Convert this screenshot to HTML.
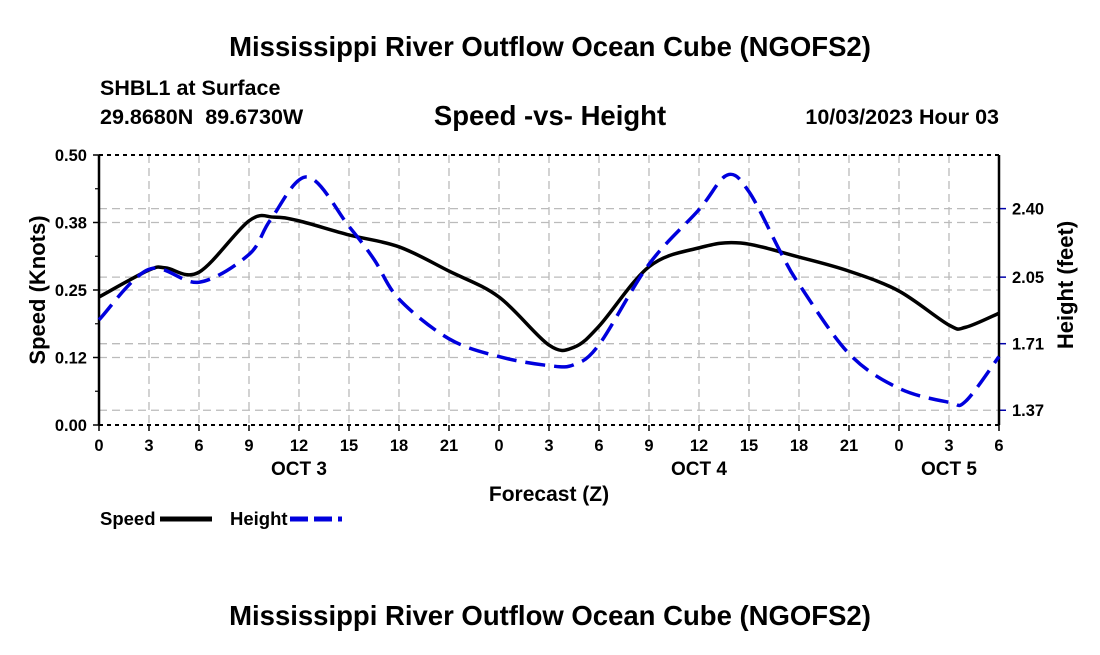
<!DOCTYPE html>
<html><head><meta charset="utf-8"><style>
body{margin:0;background:#fff;width:1100px;height:650px;overflow:hidden}
svg text{font-family:"Liberation Sans",Arial,sans-serif;font-weight:bold;fill:#000}
</style></head><body>
<svg id="chart" width="1100" height="650" xmlns="http://www.w3.org/2000/svg">
<text x="550" y="56" font-size="27.5" text-anchor="middle">Mississippi River Outflow Ocean Cube (NGOFS2)</text>
<text x="100" y="95" font-size="21.5">SHBL1 at Surface</text>
<text x="100" y="124" font-size="21.5" xml:space="preserve">29.8680N  89.6730W</text>
<text x="550" y="125" font-size="27.5" text-anchor="middle">Speed -vs- Height</text>
<text x="999" y="124" font-size="21.5" text-anchor="end">10/03/2023 Hour 03</text>
<g id="grid"></g>
<g id="axes"></g>
<g id="series"></g>
<text x="549" y="501" font-size="21" text-anchor="middle">Forecast (Z)</text>
<text transform="translate(45,290) rotate(-90)" font-size="22" text-anchor="middle">Speed (Knots)</text>
<text transform="translate(1073,285) rotate(-90)" font-size="22" text-anchor="middle">Height (feet)</text>
<g>
<text x="100" y="525" font-size="18.5">Speed</text>
<line x1="160" y1="519" x2="212" y2="519" stroke="#000" stroke-width="5"/>
<text x="230" y="525" font-size="18.5">Height</text>
<line x1="290" y1="519" x2="342" y2="519" stroke="#0000dd" stroke-width="5" stroke-dasharray="18,6"/>
</g>
<text x="550" y="625" font-size="27.5" text-anchor="middle">Mississippi River Outflow Ocean Cube (NGOFS2)</text>
</svg>
<script>
const xTickLabels=["0","3","6","9","12","15","18","21","0","3","6","9","12","15","18","21","0","3","6"];
const dayLabels=["OCT 3","OCT 4","OCT 5"];
const dayHours=[12,36,51];
const speedTicks=[0,0.125,0.25,0.375,0.5];
const speedTickLabels=["0.00","0.12","0.25","0.38","0.50"];
const heightTicks=[1.37,1.71,2.05,2.40];
const heightTickLabels=["1.37","1.71","2.05","2.40"];
const speedHours=[0,3,4,6,9,10.5,12,15,18,21,24,27,28.5,30,33,36,38.5,42,45,48,51,52,54];
const speedValues=[0.237,0.287,0.291,0.283,0.378,0.385,0.378,0.352,0.330,0.285,0.237,0.148,0.144,0.183,0.293,0.328,0.337,0.311,0.285,0.248,0.185,0.181,0.207];
const heightHours=[0,3,6,9,10.3,12.5,15,16.5,18,21,24,27,28.5,30,33,36,37.7,39,40.9,42,45,48,51,52,54];
const heightValues=[1.832,2.090,2.024,2.166,2.344,2.562,2.309,2.141,1.938,1.735,1.644,1.598,1.603,1.705,2.116,2.395,2.572,2.486,2.177,2.014,1.659,1.482,1.411,1.416,1.644];

const L=99,R=999,T=155,B=425,NS="http://www.w3.org/2000/svg";
const xS=h=>L+(h/54)*(R-L);
const yS=v=>B-(v/0.5)*(B-T);
const hMin=1.2946,hMax=2.674;
const yH=v=>B-(v-hMin)/(hMax-hMin)*(B-T);
function mk(tag,attrs,parent,text){const e=document.createElementNS(NS,tag);for(const k in attrs)e.setAttribute(k,attrs[k]);if(text!==undefined)e.textContent=text;parent.appendChild(e);return e;}
const grid=document.getElementById('grid'),axes=document.getElementById('axes'),series=document.getElementById('series');
const gs={stroke:"#bbb","stroke-width":1.3,"stroke-dasharray":"8,5"};
xTickLabels.forEach((t,i)=>{const x=xS(i*3);
 if(i>0&&i<18){const g=mk('line',Object.assign({x1:x,x2:x,y1:T,y2:B},gs),grid);
 
 }
 const tk=mk('line',{x1:x,x2:x,y1:B,y2:B+6,stroke:"#000","stroke-width":1.5},axes);
 
 
 const tl=mk('text',{x:x,y:451,"font-size":16.5,"text-anchor":"middle"},axes,t);
 
 
});
dayLabels.forEach((d,i)=>{const t=mk('text',{x:xS(dayHours[i]),y:475,"font-size":19,"text-anchor":"middle"},axes,d);
 
 });
speedTicks.forEach((v,i)=>{const y=yS(v);
 if(i>0&&i<4){const g=mk('line',Object.assign({x1:L,x2:R,y1:y,y2:y},gs),grid);
 
 }
 const tk=mk('line',{x1:L-6,x2:L,y1:y,y2:y,stroke:"#000","stroke-width":1.5},axes);
 
 
 const tl=mk('text',{x:L-12,y:y+6,"font-size":16.5,"text-anchor":"end"},axes,speedTickLabels[i]);
 
 
 if(i<4){const m=mk('line',{x1:L-4,x2:L,y1:yS(v+0.0625),y2:yS(v+0.0625),stroke:"#000","stroke-width":1.2},axes);
 
 }
});
heightTicks.forEach((v,i)=>{const y=yH(v);
 const g=mk('line',Object.assign({x1:L,x2:R,y1:y,y2:y},gs),grid);
 
 
 const tk=mk('line',{x1:R,x2:R+7,y1:y,y2:y,stroke:"#0000aa","stroke-width":1.5},axes);
 
 
 const tl=mk('text',{x:R+13,y:y+6,"font-size":16.5},axes,heightTickLabels[i]);
 
 
});
[[L,T,L,B,"left-axis",null],[R,T,R,B,"right-axis",null],[L,T,R,T,"top-axis","4,4"],[L,B,R,B,"bottom-axis","4,4"]].forEach(a=>{
 const o={x1:a[0],y1:a[1],x2:a[2],y2:a[3],stroke:"#000","stroke-width":a[5]?2:2.5};if(a[5])o["stroke-dasharray"]=a[5];
 const e=mk('line',o,axes);
 
 
});
function smoothPath(pts){let d=`M${pts[0][0]},${pts[0][1]}`;
 for(let i=0;i<pts.length-1;i++){const p0=pts[Math.max(0,i-1)],p1=pts[i],p2=pts[i+1],p3=pts[Math.min(pts.length-1,i+2)];
 d+=` C${p1[0]+(p2[0]-p0[0])/6},${p1[1]+(p2[1]-p0[1])/6} ${p2[0]-(p3[0]-p1[0])/6},${p2[1]-(p3[1]-p1[1])/6} ${p2[0]},${p2[1]}`;}
 return d;}
const sp=mk('path',{d:smoothPath(speedHours.map((h,i)=>[xS(h),yS(speedValues[i])])),fill:"none",stroke:"#000","stroke-width":3.5},series);


const hp=mk('path',{d:smoothPath(heightHours.map((h,i)=>[xS(h),yH(heightValues[i])])),fill:"none",stroke:"#0000dd","stroke-width":3.5,"stroke-dasharray":"20,9"},series);


</script>
</body></html>
